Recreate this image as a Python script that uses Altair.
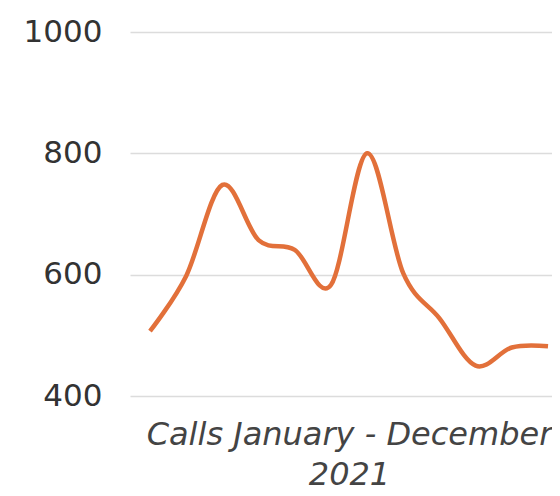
import altair as alt
import pandas as pd

months = list(range(12))
calls = [507, 598, 748, 657, 641, 583, 800, 602, 528, 450, 480, 482]
y_ticks = [400, 600, 800, 1000]
x_title = ["Calls January - December", "2021"]

df = pd.DataFrame({"month": months, "calls": calls})

chart = (
    alt.Chart(df)
    .mark_line(color="#e2703a", strokeWidth=4.5, interpolate="cardinal")
    .encode(
        x=alt.X(
            "month:Q",
            scale=alt.Scale(domain=[-0.553, 11.11], nice=False, zero=False),
            axis=alt.Axis(
                title=x_title,
                labels=False,
                ticks=False,
                domain=False,
                grid=False,
                titleFont="DejaVu Sans",
                titleFontSize=32,
                titleFontStyle="italic",
                titleFontWeight="normal",
                titleColor="#444444",
                titleX=219,
                titleY=48,
                titleAlign="center",
                titleAnchor="middle",
                titleBaseline="alphabetic",
                titleLineHeight=40,
            ),
        ),
        y=alt.Y(
            "calls:Q",
            scale=alt.Scale(domain=[400, 1000], nice=False, zero=False),
            axis=alt.Axis(
                title=None,
                values=y_ticks,
                format="d",
                ticks=False,
                domain=False,
                grid=True,
                gridColor="#dcdcdc",
                gridWidth=1.5,
                labelFont="DejaVu Sans",
                labelFontSize=31,
                labelColor="#333333",
                labelPadding=28,
            ),
        ),
    )
    .properties(
        width=422,
        height=364,
        autosize=alt.AutoSizeParams(type="none"),
        padding={"left": 122, "top": 24, "right": 0, "bottom": 100},
    )
    .configure_view(stroke=None)
)

chart.save("out.html", embed_options={"renderer": "svg", "actions": False})
